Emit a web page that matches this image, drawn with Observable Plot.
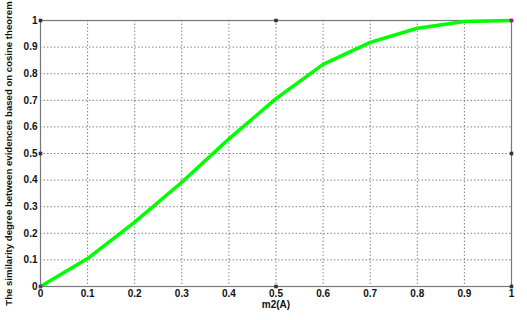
<!DOCTYPE html>
<html><head><meta charset="utf-8">
<script src="https://cdn.jsdelivr.net/npm/d3@7"></script>
<script src="https://cdn.jsdelivr.net/npm/@observablehq/plot@0.6"></script>
<style>
body{margin:0;background:#fff;}
svg{font-family:"Liberation Sans",Arial,sans-serif;}
</style>
</head><body>
<div id="chart"></div>
<script>
const m2A = [0, 0.1, 0.2, 0.3, 0.4, 0.5, 0.6, 0.7, 0.8, 0.9, 1.0];
const similarity = [0, 0.105, 0.242, 0.392, 0.555, 0.706, 0.835, 0.918, 0.971, 0.996, 1.0];
const xTicks = [0, 0.1, 0.2, 0.3, 0.4, 0.5, 0.6, 0.7, 0.8, 0.9, 1];
const yTicks = [0, 0.1, 0.2, 0.3, 0.4, 0.5, 0.6, 0.7, 0.8, 0.9, 1];
const markerX = [0, 0.5, 1, 0, 1, 0, 0.5, 1];
const markerY = [0, 0, 0, 0.5, 0.5, 1, 1, 1];
const endX = [0, 1];
const endY = [0, 1];
const xLabel = "m2(A)";
const yLabel = "The similarity degree between evidences based on cosine theorem";
const data = m2A.map((x, i) => ({x, y: similarity[i]}));
const markers = markerX.map((x, i) => ({x, y: markerY[i]}));
const ends = endX.map((x, i) => ({x, y: endY[i]}));
const fmt = d => d === 0 ? "0" : d === 1 ? "1" : String(d);

const chart = Plot.plot({
  width: 527, height: 320,
  marginLeft: 40, marginRight: 16, marginTop: 20, marginBottom: 34,
  style: {fontSize: "10px", fontWeight: "bold", color: "#111", background: "#fff"},
  x: {domain: [0, 1], ticks: xTicks, tickFormat: fmt, label: null},
  y: {domain: [0, 1], ticks: yTicks, tickFormat: fmt, label: null},
  marks: [
    Plot.gridX(xTicks, {stroke: "#555", strokeOpacity: 0.9, strokeDasharray: "1.5,2", strokeWidth: 0.8}),
    Plot.gridY(yTicks, {stroke: "#555", strokeOpacity: 0.9, strokeDasharray: "1.5,2", strokeWidth: 0.8}),
    Plot.frame({stroke: "#777", strokeWidth: 1.2}),
    Plot.axisX(xTicks, {tickSize: 0, tickPadding: 3, tickFormat: fmt, fontWeight: "bold", fill: "#111", fontSize: 10}),
    Plot.axisY(yTicks, {tickSize: 0, tickPadding: 3, tickFormat: fmt, fontWeight: "bold", fill: "#111", fontSize: 10}),
    Plot.line(data, {x: "x", y: "y", stroke: "#00ff00", strokeWidth: 3.5}),
    Plot.dot(markers, {x: "x", y: "y", symbol: "square", r: 2, fill: "#333", stroke: "none"}),
    Plot.dot(ends, {x: "x", y: "y", symbol: "square", r: 1.6, fill: "#c000c0", stroke: "none"}),
    Plot.text([xLabel], {frameAnchor: "bottom", dy: 21, fontWeight: "bold", fontSize: 10, fill: "#111"}),
    Plot.text([yLabel], {frameAnchor: "left", textAnchor: "middle", dx: -32, rotate: -90, fontWeight: "bold", fontSize: 9.6, fill: "#111"})
  ]
});
document.getElementById("chart").appendChild(chart);
</script>
</body></html>
